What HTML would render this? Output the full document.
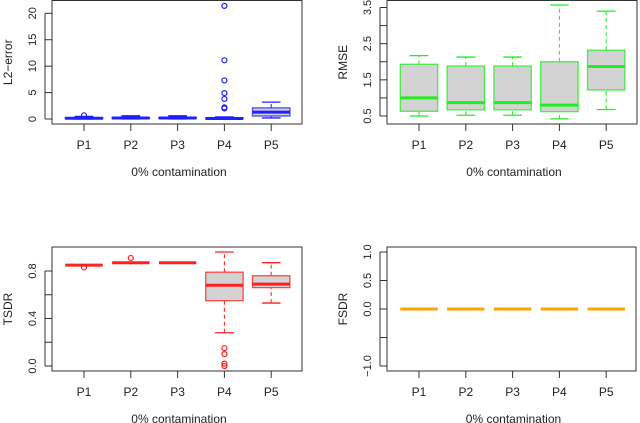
<!DOCTYPE html>
<html><head><meta charset="utf-8"><style>
html,body{margin:0;padding:0;background:#fff;}
svg{display:block;font-family:"Liberation Sans",Arial,sans-serif;}
</style></head><body>
<svg id="c" width="640" height="423" viewBox="0 0 640 423" xmlns="http://www.w3.org/2000/svg"></svg>
<script>
const categories = ["P1","P2","P3","P4","P5"];
// stats: [lowWhisker, q1, median, q3, highWhisker]
const l2Stats = [[0,0.05,0.15,0.25,0.5],[0,0.1,0.2,0.3,0.6],[0,0.1,0.2,0.3,0.6],[0,0.05,0.1,0.2,0.4],[0.2,0.57,1.3,2.1,3.2]];
const l2Outliers = [[0.7],[],[],[2.0,2.2,3.8,4.9,7.3,11.1,21.4],[]];
const l2Ticks = [0,5,10,15,20];
const rmseStats = [[0.5,0.63,1.0,1.93,2.17],[0.52,0.67,0.87,1.88,2.13],[0.52,0.67,0.87,1.88,2.13],[0.42,0.62,0.8,2.0,3.57],[0.68,1.22,1.87,2.32,3.4]];
const rmseOutliers = [[],[],[],[],[]];
const rmseTicks = [0.5,1.0,1.5,2.0,2.5,3.0,3.5];
const rmseLabels = ["0.5","","1.5","","2.5","","3.5"];
const tsdrStats = [[0.85,0.85,0.85,0.85,0.85],[0.87,0.87,0.87,0.87,0.87],[0.87,0.87,0.87,0.87,0.87],[0.28,0.55,0.68,0.79,0.96],[0.53,0.66,0.69,0.76,0.87]];
const tsdrOutliers = [[0.83],[0.91],[],[0.0,0.02,0.1,0.15],[]];
const tsdrTicks = [0.0,0.2,0.4,0.6,0.8];
const tsdrLabels = ["0.0","","0.4","","0.8"];
const fsdrStats = [[0,0,0,0,0],[0,0,0,0,0],[0,0,0,0,0],[0,0,0,0,0],[0,0,0,0,0]];
const fsdrOutliers = [[],[],[],[],[]];
const fsdrTicks = [-1.0,-0.5,0.0,0.5,1.0];
const fsdrLabels = ["-1.0","","0.0","0.5","1.0"];

const svg = document.getElementById('c');
const NS = "http://www.w3.org/2000/svg";
function el(tag, attrs, parent){
  const e = document.createElementNS(NS, tag);
  for (const k in attrs) e.setAttribute(k, attrs[k]);
  (parent||svg).appendChild(e);
  return e;
}
function panel(cfg){
  const g = el('g', {});
  
  
  const {x0,x1,y0,y1,vLo,yLo,vHi,yHi,color} = cfg;
  const ys = v => yLo + (v - vLo) * (yHi - yLo) / (vHi - vLo);
  const xs = i => x0 + 32 + i * 46.8;
  // frame
  const fr = el('rect', {x:x0,y:y0,width:x1-x0,height:y1-y0,fill:'none',stroke:'#333','stroke-width':1}, g);
  
  
  // y axis
  const ticksY = cfg.ticks;
  el('line',{x1:x0-7,x2:x0-7,y1:ys(ticksY[0]),y2:ys(ticksY[ticksY.length-1]),stroke:'#333'},g);
  ticksY.forEach((t,k)=>{
    const y = ys(t);
    el('line',{x1:x0-7,x2:x0,y1:y,y2:y,stroke:'#333'},g);
    const lab = cfg.labels ? cfg.labels[k] : String(t);
    if (lab){
      const tx = el('text',{x:x0-16,y:y,'font-size':11,'text-anchor':'middle',transform:`rotate(-90 ${x0-16} ${y})`,fill:'#222'},g);
      tx.textContent = lab.replace('-','\u2212');
      
      
    }
  });
  // x axis
  el('line',{x1:xs(0),x2:xs(4),y1:y1,y2:y1,stroke:'#333'},g);
  categories.forEach((c,i)=>{
    el('line',{x1:xs(i),x2:xs(i),y1:y1,y2:y1+7,stroke:'#333'},g);
    const tx = el('text',{x:xs(i),y:y1+25,'font-size':12,'text-anchor':'middle',fill:'#222'},g);
    tx.textContent = c;
    
    
  });
  const xt = el('text',{x:(x0+x1)/2+2,y:y1+52,'font-size':12,'text-anchor':'middle',fill:'#222'},g);
  xt.textContent = '0% contamination';
  
  
  const yt = el('text',{x:cfg.ytx,y:(y0+y1)/2,'font-size':12,'text-anchor':'middle',transform:`rotate(-90 ${cfg.ytx} ${(y0+y1)/2})`,fill:'#222'},g);
  yt.textContent = cfg.ytitle;
  
  
  // boxes
  cfg.stats.forEach((s,i)=>{
    const cx = xs(i), hw = 18.7;
    const bg = el('g',{},g);
    
    
    el('line',{x1:cx,x2:cx,y1:ys(s[0]),y2:ys(s[1]),stroke:color,'stroke-dasharray':'4,3','stroke-width':1},bg);
    el('line',{x1:cx,x2:cx,y1:ys(s[3]),y2:ys(s[4]),stroke:color,'stroke-dasharray':'4,3','stroke-width':1},bg);
    el('line',{x1:cx-hw/2,x2:cx+hw/2,y1:ys(s[0]),y2:ys(s[0]),stroke:color,'stroke-width':1.3},bg);
    el('line',{x1:cx-hw/2,x2:cx+hw/2,y1:ys(s[4]),y2:ys(s[4]),stroke:color,'stroke-width':1.3},bg);
    const top = ys(s[3]), bot = ys(s[1]);
    el('rect',{x:cx-hw,y:Math.min(top,bot),width:2*hw,height:Math.abs(bot-top),fill:'#d3d3d3',stroke:color,'stroke-width':1.3,'stroke-opacity':0.8},bg);
    el('line',{x1:cx-hw,x2:cx+hw,y1:ys(s[2]),y2:ys(s[2]),stroke:color,'stroke-width':3},bg);
    cfg.outliers[i].forEach(v=>{
      const o = el('circle',{cx:cx,cy:ys(v),r:2.5,fill:'none',stroke:color,'stroke-width':1.2},bg);
      
      
    });
  });
}
panel({name:'l2-error-panel',x0:52,x1:302,y0:0.5,y1:124,vLo:0,yLo:119,vHi:20,yHi:13.3,color:'#2020ff',ticks:l2Ticks,stats:l2Stats,outliers:l2Outliers,ytitle:'L2\u2212error',ytx:12});
panel({name:'rmse-panel',x0:387,x1:637,y0:0.5,y1:124,vLo:0.5,yLo:116,vHi:3.5,yHi:7.5,color:'#20ee20',ticks:rmseTicks,labels:rmseLabels,stats:rmseStats,outliers:rmseOutliers,ytitle:'RMSE',ytx:347});
panel({name:'tsdr-panel',x0:52,x1:302,y0:247,y1:371,vLo:0,yLo:366,vHi:0.8,yHi:271,color:'#ff2020',ticks:tsdrTicks,labels:tsdrLabels,stats:tsdrStats,outliers:tsdrOutliers,ytitle:'TSDR',ytx:12});
panel({name:'fsdr-panel',x0:387,x1:636,y0:247,y1:371,vLo:-1,yLo:366,vHi:1,yHi:252,color:'#ffa500',ticks:fsdrTicks,labels:fsdrLabels,stats:fsdrStats,outliers:fsdrOutliers,ytitle:'FSDR',ytx:347});
</script>
</body></html>
